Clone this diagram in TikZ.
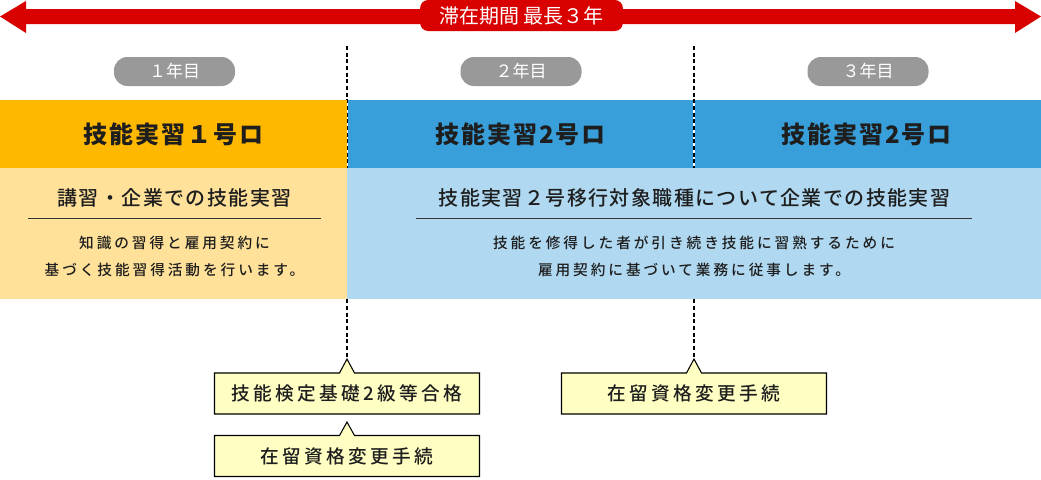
\documentclass[tikz,border=0pt]{standalone}
\usepackage{fontspec}
\setmainfont{Noto Sans CJK JP}
\newfontfamily\jpmedium{Noto Sans CJK JP Medium}
\usepackage{tikz}
\usetikzlibrary{shapes.callouts, calc}

\definecolor{stayred}{RGB}{217,0,0}
\definecolor{yeargray}{RGB}{153,153,153}
\definecolor{tpone}{RGB}{255,184,0}
\definecolor{tptwo}{RGB}{56,159,218}
\definecolor{tponelight}{RGB}{255,225,153}
\definecolor{tptwolight}{RGB}{176,217,241}
\definecolor{callfill}{RGB}{255,255,196}
\definecolor{inkdark}{RGB}{30,30,30}

\tikzset{
  headtxt/.style={text=inkdark, inner sep=0pt,
    font=\fontsize{18}{20}\selectfont\bfseries\addfontfeature{LetterSpace=8}},
  subtxt/.style={text=inkdark, inner sep=0pt,
    font=\jpmedium\fontsize{15}{17}\selectfont\addfontfeature{LetterSpace=7}},
  bodytxt/.style={text=inkdark, inner sep=0pt,
    font=\jpmedium\fontsize{11}{13}\selectfont\addfontfeature{LetterSpace=20}},
  yearpill/.style={fill=yeargray, text=white, rounded corners=10pt,
    minimum width=90.75pt, minimum height=21.75pt, inner sep=0pt,
    font=\fontsize{12.75}{14}\selectfont},
  staylabel/.style={fill=stayred, text=white, rounded corners=6pt,
    minimum width=152pt, minimum height=23.25pt, inner sep=0pt,
    font=\fontsize{15}{17}\selectfont},
  notebox/.style={rectangle callout, draw=black, fill=callfill, line width=0.8pt,
    minimum width=198.75pt, minimum height=30.75pt, inner sep=0pt,
    callout pointer width=11.25pt, text=inkdark,
    font=\jpmedium\fontsize{14}{16}\selectfont\addfontfeature{LetterSpace=18}},
  dashline/.style={black, line width=0.9pt, dash pattern=on 3pt off 2pt},
  ruleline/.style={draw=inkdark!90, line width=0.8pt}
}

\begin{document}
\begin{tikzpicture}[x=0.75pt, y=-0.75pt]
  \useasboundingbox (0,0) rectangle (1041,479);

  %% stay period arrow
  \fill[stayred] (0,16.5) -- (26,1) -- (26,9) -- (1015,9) -- (1015,1)
    -- (1041,16.5) -- (1015,33) -- (1015,24) -- (26,24) -- (26,33) -- cycle;
  \node[staylabel] (stay) at (521.5,15.5) {滞在期間 最長３年};

  %% years
  \node[yearpill] (yr1) at (174.5,71.5) {１年目};
  \node[yearpill] (yr2) at (521,71.5) {２年目};
  \node[yearpill] (yr3) at (868,71.5) {３年目};

  %% checkpoints
  \coordinate (top1) at (347,46);
  \coordinate (top2) at (694,46);
  \coordinate (tip1) at (347,359);
  \coordinate (tip2) at (347,422);
  \coordinate (tip3) at (694,359);

  \node[notebox, callout absolute pointer={(tip1)}] (c1) at (347,393.5) {技能検定基礎2級等合格};
  \node[notebox, callout absolute pointer={(tip2)}] (c2) at (347,456) {在留資格変更手続};
  \node[notebox, callout absolute pointer={(tip3)}] (c3) at (694,393.5) {在留資格変更手続};

  \draw[dashline] (top1) -- (c1.pointer);
  \draw[dashline] (top2) -- (c3.pointer);

  %% training blocks
  \fill[tpone] (0,100) rectangle (346.5,168);
  \fill[tptwo] (347.5,100) rectangle (693,168);
  \fill[tptwo] (695,100) rectangle (1041,168);
  \fill[tponelight] (0,168) rectangle (347,299);
  \fill[tptwolight] (347,168) rectangle (1041,299);

  \node[headtxt] (h1) at (173.5,134) {技能実習１号ロ};
  \node[headtxt] (h2) at (520.5,134) {技能実習2号ロ};
  \node[headtxt] (h3) at (866.5,134) {技能実習2号ロ};

  %% year 1 content
  \node[subtxt] (s1) at (174.5,197.5) {講習・企業での技能実習};
  \draw[ruleline] (28,218.5) -- (321,218.5);
  \node[bodytxt] (b1a) at (174.5,243) {知識の習得と雇用契約に};
  \node[bodytxt] (b1b) at (174.5,270) {基づく技能習得活動を行います。};

  %% years 2-3 content
  \node[subtxt] (s2) at (694.5,197.5) {技能実習２号移行対象職種について企業での技能実習};
  \draw[ruleline] (416,218.5) -- (972,218.5);
  \node[bodytxt] (b2a) at (694,243) {技能を修得した者が引き続き技能に習熟するために};
  \node[bodytxt] (b2b) at (694,270) {雇用契約に基づいて業務に従事します。};
\end{tikzpicture}
\end{document}
